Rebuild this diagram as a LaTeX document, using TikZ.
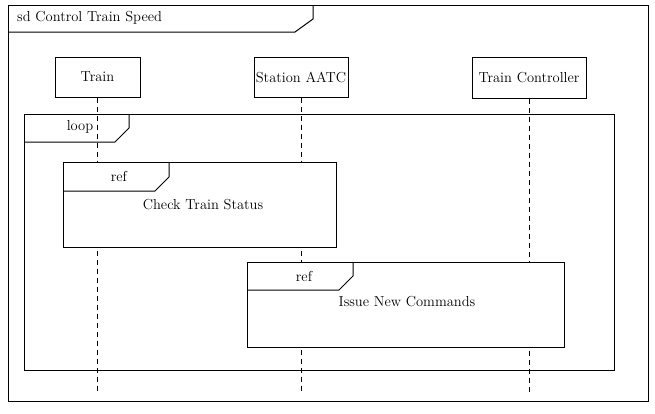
\documentclass[tikz,border=0pt]{standalone}
\usepackage{fontspec}
\begin{document}
\begin{tikzpicture}[
    x=1pt, y=-1pt,
    font=\fontsize{14.5}{16}\selectfont,
    % cajas de cabecera de las lineas de vida
    lifebox/.style={draw, line width=1pt, minimum height=40pt, inner xsep=1pt, align=center, fill=white},
    % marcos (sd, loop, ref)
    frame/.style={draw, line width=1pt, anchor=north west, inner sep=0pt},
    reframe/.style={frame, fill=white, minimum height=85pt},
    tab/.style={line width=1pt},
    lifeline/.style={line width=0.9pt, dash pattern=on 5pt off 4pt},
    tablabel/.style={inner sep=1pt}
]
\useasboundingbox (0,0) rectangle (655,413);

% --- Marco principal ---
\node[frame, minimum width=640pt, minimum height=396pt] (sd) at (8,5) {};
\draw[tab] (sd.north west) ++(0,27) -- ++(287,0) -- ++(18,-13) -- ++(0,-14);
\node[tablabel, anchor=west] (sdlbl) at (16,18) {sd Control Train Speed};

% --- Lineas de vida ---
\node[lifebox, minimum width=85pt] (train) at (97.5,77) {Train};
\node[lifebox, minimum width=94pt] (aatc) at (301,77) {Station AATC};
\node[lifebox, minimum width=114pt, minimum height=41pt] (ctrl) at (529,77.5) {Train Controller};

\coordinate (trainEnd) at (97.5,394);
\coordinate (aatcEnd) at (301,394);
\coordinate (ctrlEnd) at (529,394);

% --- Fragmento loop ---
\node[frame, minimum width=590pt, minimum height=256pt] (loop) at (24,114) {};
\draw[tab] (loop.north west) ++(0,28) -- ++(91,0) -- ++(14,-14) -- ++(0,-14);
\node[tablabel] (looplbl) at (80,127) {loop};

\draw[lifeline] (train) -- (trainEnd);
\draw[lifeline] (aatc) -- (aatcEnd);
\draw[lifeline] (ctrl) -- (ctrlEnd);

% --- ref: Check Train Status ---
\node[reframe, minimum width=273pt] (ref1) at (63,162) {};
\draw[tab] (ref1.north west) ++(0,29) -- ++(92,0) -- ++(14,-14) -- ++(0,-15);
\node[tablabel] (ref1lbl) at (119,176) {ref};
\node (ref1txt) at (203,205) {Check Train Status};

% --- ref: Issue New Commands ---
\node[reframe, minimum width=317pt] (ref2) at (247,262) {};
\draw[tab] (ref2.north west) ++(0,28) -- ++(92,0) -- ++(14,-14) -- ++(0,-14);
\node[tablabel] (ref2lbl) at (304,276) {ref};
\node (ref2txt) at (407,302) {Issue New Commands};

\end{tikzpicture}
\end{document}
